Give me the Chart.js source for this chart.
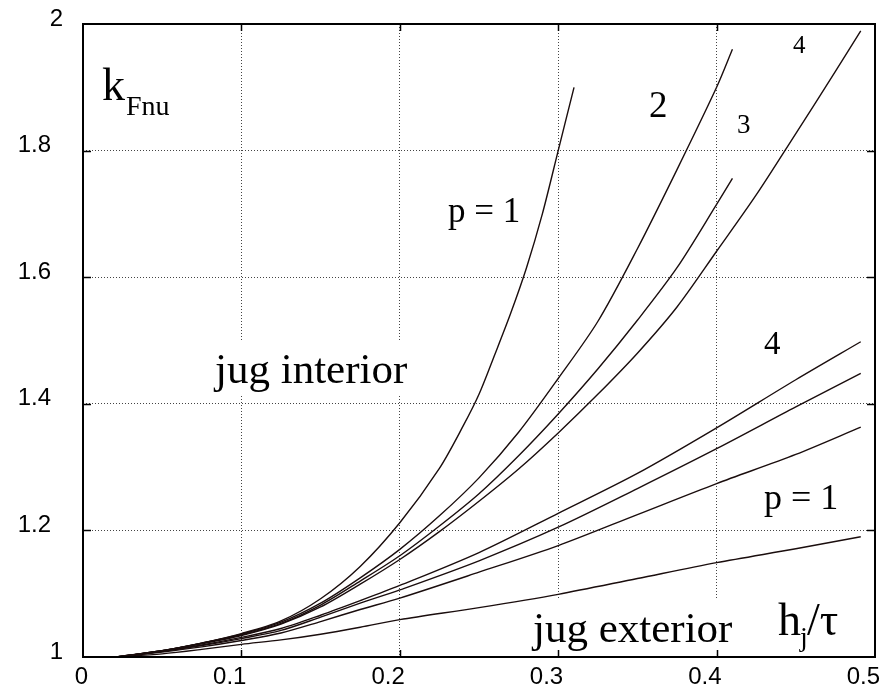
<!DOCTYPE html>
<html>
<head>
<meta charset="utf-8">
<script src="https://cdn.jsdelivr.net/npm/chart.js@4"></script>
<style>
  html, body { margin: 0; padding: 0; background: #fff; }
  canvas { display: block; }
</style>
</head>
<body>
<canvas id="kChart" width="892" height="696"></canvas>
<script>
// tick labels
const xTicks = [0, 0.1, 0.2, 0.3, 0.4, 0.5];
const yTicks = [1, 1.2, 1.4, 1.6, 1.8, 2];

// jug interior curves, p = 1..4
const intP1X = [0.021, 0.05, 0.075, 0.1, 0.125, 0.15, 0.175, 0.2, 0.225, 0.24, 0.25, 0.26, 0.27, 0.28, 0.29, 0.3, 0.31];
const intP1Y = [1.0, 1.01, 1.022, 1.037, 1.057, 1.092, 1.143, 1.212, 1.298, 1.365, 1.415, 1.478, 1.543, 1.615, 1.70, 1.80, 1.90];
const intP2X = [0.021, 0.05, 0.075, 0.1, 0.125, 0.15, 0.175, 0.2, 0.225, 0.25, 0.275, 0.3, 0.325, 0.35, 0.375, 0.4, 0.41];
const intP2Y = [1.0, 1.01, 1.022, 1.036, 1.055, 1.085, 1.125, 1.17, 1.223, 1.283, 1.355, 1.44, 1.53, 1.645, 1.77, 1.90, 1.96];
const intP3X = intP2X;
const intP3Y = [1.0, 1.01, 1.022, 1.035, 1.053, 1.082, 1.12, 1.16, 1.207, 1.258, 1.318, 1.384, 1.455, 1.532, 1.615, 1.715, 1.756];
const intP4X = [0.021, 0.05, 0.075, 0.1, 0.125, 0.15, 0.175, 0.2, 0.225, 0.25, 0.275, 0.3, 0.325, 0.35, 0.375, 0.4, 0.425, 0.45, 0.475, 0.491];
const intP4Y = [1.0, 1.01, 1.021, 1.034, 1.052, 1.079, 1.115, 1.154, 1.198, 1.246, 1.297, 1.354, 1.415, 1.48, 1.553, 1.641, 1.73, 1.827, 1.925, 1.989];

// jug exterior curves, p = 1..4
const extX = [0.021, 0.05, 0.075, 0.1, 0.125, 0.15, 0.175, 0.2, 0.25, 0.3, 0.35, 0.4, 0.45, 0.491];
const extP1Y = [1.0, 1.005, 1.012, 1.02, 1.027, 1.036, 1.047, 1.059, 1.078, 1.099, 1.124, 1.149, 1.171, 1.19];
const extP2Y = [1.0, 1.008, 1.016, 1.026, 1.038, 1.056, 1.075, 1.093, 1.134, 1.176, 1.225, 1.274, 1.32, 1.363];
const extP3Y = [1.0, 1.009, 1.018, 1.029, 1.042, 1.063, 1.085, 1.106, 1.152, 1.205, 1.266, 1.329, 1.395, 1.448];
const extP4Y = [1.0, 1.009, 1.019, 1.031, 1.045, 1.066, 1.089, 1.113, 1.165, 1.227, 1.29, 1.362, 1.438, 1.498];

// annotations drawn on the plot: text, left x, baseline y, size
const notes = [
  ['k', 102, 100, 46],
  ['Fnu', 126, 115, 28],
  ['jug interior', 215, 383, 43],
  ['p = 1', 448, 222, 35],
  ['2', 649, 117, 37],
  ['3', 737, 133, 27],
  ['4', 793, 53, 25],
  ['4', 764, 354, 33],
  ['p = 1', 764, 509, 36],
  ['jug exterior', 533, 642, 43],
  ['h', 778, 635, 46],
  ['j', 800, 646, 28],
  ['/\u03c4', 807, 635, 46]
];

const lineColor = '#1a0d0d';

function pts(xs, ys) {
  return xs.map((x, i) => ({ x: x, y: ys[i] }));
}

function curve(xs, ys) {
  return {
    data: pts(xs, ys),
    showLine: true,
    borderColor: lineColor,
    borderWidth: 1.4,
    pointRadius: 0,
    fill: false,
    tension: 0.3
  };
}

const notesPlugin = {
  id: 'notes',
  beforeDatasetsDraw(chart) {
    const ctx = chart.ctx;
    ctx.save();
    notes.forEach(n => {
      ctx.font = n[3] + 'px "Liberation Serif", "Times New Roman", serif';
      const w = ctx.measureText(n[0]).width;
      ctx.fillStyle = '#fff';
      ctx.fillRect(n[1] - 2, n[2] - n[3], w + 4, n[3] * 1.3);
    });
    notes.forEach(n => {
      ctx.font = n[3] + 'px "Liberation Serif", "Times New Roman", serif';
      ctx.fillStyle = '#000';
      ctx.textBaseline = 'alphabetic';
      ctx.textAlign = 'left';
      ctx.fillText(n[0], n[1], n[2]);
    });
    ctx.restore();
  }
};

// box round the plot with inward ticks on all four sides
const framePlugin = {
  id: 'frame',
  afterDraw(chart) {
    const ctx = chart.ctx;
    const a = chart.chartArea;
    const xs = chart.scales.x, ys = chart.scales.y;
    ctx.save();
    ctx.strokeStyle = '#000';
    ctx.lineWidth = 2;
    ctx.strokeRect(a.left, a.top, a.right - a.left, a.bottom - a.top);
    ctx.lineWidth = 1.5;
    ctx.beginPath();
    xTicks.slice(1, -1).forEach(v => {
      const px = Math.round(xs.getPixelForValue(v)) + 0.5;
      ctx.moveTo(px, a.bottom); ctx.lineTo(px, a.bottom - 7);
      ctx.moveTo(px, a.top); ctx.lineTo(px, a.top + 7);
    });
    yTicks.slice(1, -1).forEach(v => {
      const py = Math.round(ys.getPixelForValue(v)) + 0.5;
      ctx.moveTo(a.left, py); ctx.lineTo(a.left + 8, py);
      ctx.moveTo(a.right, py); ctx.lineTo(a.right - 8, py);
    });
    ctx.stroke();
    ctx.restore();
  }
};

const tickFont = { family: '"Liberation Sans", Arial, sans-serif', size: 24 };

new Chart(document.getElementById('kChart'), {
  type: 'scatter',
  data: {
    datasets: [
      curve(intP1X, intP1Y),
      curve(intP2X, intP2Y),
      curve(intP3X, intP3Y),
      curve(intP4X, intP4Y),
      curve(extX, extP1Y),
      curve(extX, extP2Y),
      curve(extX, extP3Y),
      curve(extX, extP4Y)
    ]
  },
  options: {
    responsive: false,
    animation: false,
    layout: { padding: { top: 24, right: 17, left: 0, bottom: 0 } },
    plugins: {
      legend: { display: false },
      tooltip: { enabled: false }
    },
    scales: {
      x: {
        type: 'linear',
        min: xTicks[0],
        max: xTicks[xTicks.length - 1],
        afterBuildTicks: s => { s.ticks = xTicks.map(v => ({ value: v })); },
        afterFit: s => { s.height = 39; s.paddingLeft = 0; s.paddingRight = 0; },
        ticks: {
          align: 'end',
          labelOffset: 5,
          padding: 6,
          maxRotation: 0,
          autoSkip: false,
          color: '#000',
          font: tickFont,
          callback: v => String(Math.round(v * 10) / 10)
        },
        grid: {
          drawTicks: false,
          lineWidth: 1,
          color: c => (c.tick && (c.tick.value === xTicks[0] || c.tick.value === xTicks[xTicks.length - 1])) ? 'rgba(0,0,0,0)' : '#444'
        },
        border: { display: false, dash: [1, 2] }
      },
      y: {
        type: 'linear',
        min: yTicks[0],
        max: yTicks[yTicks.length - 1],
        afterBuildTicks: s => { s.ticks = yTicks.map(v => ({ value: v })); },
        afterFit: s => { s.width = 83; s.paddingTop = 0; s.paddingBottom = 0; },
        ticks: {
          padding: 20,
          labelOffset: -5,
          color: '#000',
          font: tickFont,
          callback: v => {
            const s = String(Math.round(v * 10) / 10);
            return s.indexOf('.') >= 0 ? s + '\u2002' : s;
          }
        },
        grid: {
          drawTicks: false,
          lineWidth: 1,
          color: c => (c.tick && (c.tick.value === yTicks[0] || c.tick.value === yTicks[yTicks.length - 1])) ? 'rgba(0,0,0,0)' : '#444'
        },
        border: { display: false, dash: [1, 2] }
      }
    }
  },
  plugins: [notesPlugin, framePlugin]
});
</script>
</body>
</html>
